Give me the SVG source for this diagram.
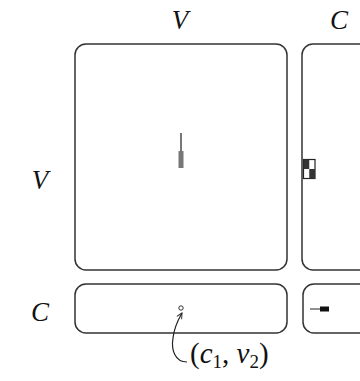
<svg xmlns="http://www.w3.org/2000/svg" width="360" height="381" viewBox="0 0 360 381">
<style>
.box{fill:#fff;stroke:#333;stroke-width:1.5}
.lbl{font-family:"Liberation Serif",serif;font-style:italic;font-size:27px;fill:#111}
.ann{font-family:"Liberation Serif",serif;font-style:italic;font-size:29px;fill:#111}
.up{font-style:normal}
.sub{font-style:normal;font-size:19px}
</style>
<defs>
<marker id="ah" viewBox="0 0 10 10" refX="9" refY="5" markerWidth="7" markerHeight="7" orient="auto-start-reverse" markerUnits="userSpaceOnUse">
<path d="M1,1 L9,5 L1,9" fill="none" stroke="#222" stroke-width="1.3"/>
</marker>
</defs>
<g id="labels">
<text class="lbl" x="180" y="29" text-anchor="middle">V</text>
<text class="lbl" x="339" y="29" text-anchor="middle">C</text>
<text class="lbl" x="40" y="189" text-anchor="middle">V</text>
<text class="lbl" x="40" y="321" text-anchor="middle">C</text>
</g>
<g id="VV">
<rect class="box" x="75" y="44" width="212" height="226" rx="11"/>
<line x1="181" y1="133" x2="181" y2="152" stroke="#777" stroke-width="2"/>
<rect x="178.5" y="151" width="5" height="17" fill="#777"/>
</g>
<g id="VC">
<rect class="box" x="302" y="44" width="70" height="226" rx="11"/>
<rect x="303.5" y="159.5" width="11.5" height="19" fill="#fff" stroke="#222" stroke-width="1.2"/>
<rect x="303.5" y="159.5" width="5.75" height="9.5" fill="#333"/>
<rect x="309.25" y="169" width="5.75" height="9.5" fill="#333"/>
</g>
<g id="CV">
<rect class="box" x="75" y="284" width="212" height="49" rx="11"/>
<circle cx="181" cy="308" r="2.2" fill="#fff" stroke="#333" stroke-width="1"/>
</g>
<g id="CC">
<rect class="box" x="303" y="284" width="70" height="49" rx="11"/>
<line x1="310" y1="309" x2="320" y2="309" stroke="#222" stroke-width="1"/>
<rect x="320" y="306.5" width="9" height="5" fill="#111"/>
</g>
<g id="connectors">
<path d="M187,362 C175,362 171,350 173,338 C174,328 178,320 182,313" fill="none" stroke="#222" stroke-width="1.2" marker-end="url(#ah)"/>
</g>
<g id="annotation">
<text class="ann" x="190" y="363"><tspan class="up">(</tspan>c<tspan class="sub" dy="5">1</tspan><tspan class="up" dy="-5">, </tspan>v<tspan class="sub" dy="5">2</tspan><tspan class="up" dy="-5">)</tspan></text>
</g>
</svg>
